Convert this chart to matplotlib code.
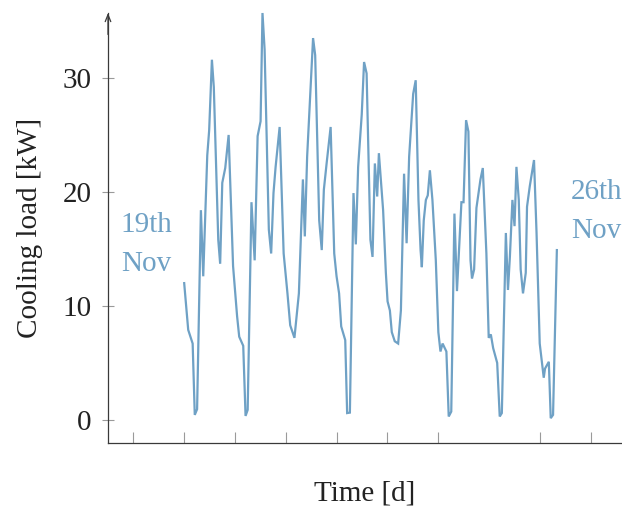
import matplotlib
matplotlib.use("Agg")
import matplotlib.pyplot as plt
import numpy as np

# Time in hours since 19th Nov 00:00, cooling load in kW
hours = [0.0, 1.9, 4.0, 5.0, 6.1, 7.9, 9.0, 10.9, 11.8, 13.1, 14.0, 16.1, 17.0, 18.0,
         19.4, 21.0, 23.1, 25.0, 26.0, 27.9, 29.0, 30.0, 31.8, 33.3, 34.7, 36.1, 37.0,
         38.0, 40.0, 41.1, 42.2, 43.2, 45.1, 47.0, 48.8, 50.1, 52.1, 54.2, 56.1, 57.0,
         58.1, 60.9, 61.9, 63.8, 65.0, 66.0, 67.3, 69.2, 70.9, 72.0, 73.2, 74.2, 76.1,
         77.0, 78.3, 80.0, 81.1, 82.2, 83.9, 85.0, 86.2, 88.0, 89.0, 90.1, 91.2, 92.0,
         94.0, 95.3, 96.1, 97.2, 98.1, 99.5, 101.1, 102.4, 103.9, 105.1, 106.3, 108.2,
         109.4, 110.7, 111.7, 112.3, 113.2, 114.2, 115.1, 116.1, 117.3, 118.9, 120.1,
         121.1, 122.1, 123.9, 125.0, 126.2, 127.7, 128.9, 131.0, 132.0, 133.2, 134.3,
         135.3, 136.0, 137.0, 138.1, 140.0, 141.1, 142.8, 143.9, 144.9, 146.0, 147.9,
         149.1, 150.1, 152.0, 153.0, 153.9, 155.1, 156.1, 157.0, 158.1, 159.0, 160.1,
         161.4, 162.0, 163.3, 165.3, 166.5, 168.0, 169.9, 170.5, 172.3, 173.2, 174.3,
         176.1]
load_kw = [12.0, 7.9, 6.7, 0.44, 0.94, 18.4, 12.6, 23.2, 25.4, 31.6, 29.2, 15.8, 13.7, 20.8,
           22.1, 25.0, 13.5, 9.1, 7.3, 6.5, 0.35, 0.88, 19.1, 14.0, 24.9, 26.2, 35.7,
           32.5, 16.7, 14.6, 19.9, 22.2, 25.7, 14.6, 11.1, 8.3, 7.2, 11.1, 21.1, 16.1,
           23.1, 33.5, 32.0, 17.5, 14.9, 20.2, 22.5, 25.7, 14.6, 12.6, 11.1, 8.2, 7.0,
           0.6, 0.64, 19.9, 15.4, 22.2, 26.8, 31.4, 30.4, 15.8, 14.3, 22.5, 19.6, 23.4,
           18.4, 12.9, 10.4, 9.6, 7.7, 6.9, 6.7, 9.6, 21.6, 15.5, 23.1, 28.6,
           29.8, 19.3, 14.9, 13.4, 17.5, 19.3, 19.7, 21.9, 19.3, 14.0, 7.7,
           6.0, 6.7, 6.0, 0.3, 0.73, 18.1, 11.3, 19.1, 19.1, 26.3, 25.3,
           14.0, 12.4, 13.2, 18.6, 21.1, 22.1, 14.6, 7.2, 7.5, 6.3, 5.0,
           0.3, 0.6, 16.4, 11.4, 14.3, 19.3, 17.0, 22.2, 19.3, 13.2, 11.1,
           12.9, 18.7, 20.5, 22.8, 16.4, 6.7, 3.7, 4.5, 5.1, 0.15, 0.44,
           14.9]

x_ticks_days = [-1, 0, 1, 2, 3, 4, 5, 7, 8]
y_ticks = [0, 10, 20, 30]
start_label = "19th\nNov"
end_label = "26th\nNov"

line_color = "#6fa1c5"
axis_color = "#3a3a3a"
tick_color = "#9a9a9a"

plt.rcParams['font.family'] = ['Liberation Serif', 'DejaVu Serif']
FS = 21

fig = plt.figure(figsize=(6.22, 5.08), dpi=100)
ax = fig.add_axes([108/622, (508-442.7)/508, 514/622, (442.7-13)/508])

days = np.array(hours) / 24.0
ax.plot(days, load_kw, color=line_color, lw=1.6, solid_joinstyle='miter', clip_on=False)

ax.set_xlim(-1.5, 8.62)
ax.set_ylim(-2.0, 35.7)

for s in ['top', 'right']:
    ax.spines[s].set_visible(False)
for s in ['left', 'bottom']:
    ax.spines[s].set_color(axis_color)
    ax.spines[s].set_linewidth(0.9)

ax.set_xticks(x_ticks_days)
ax.set_xticklabels([])
ax.tick_params(axis='x', direction='in', length=8, width=0.8, color=tick_color)
ax.set_yticks(y_ticks)
ax.set_yticklabels([str(v) for v in y_ticks])
ax.tick_params(axis='y', direction='inout', length=8, width=0.8, color=tick_color,
               labelsize=FS, labelcolor='#222222', pad=8)

ax.annotate('', xy=(0, 1.0), xytext=(0, 0.95), xycoords='axes fraction',
            arrowprops=dict(arrowstyle='->,head_length=0.5,head_width=0.2', lw=0.9,
                            color=axis_color, shrinkA=0, shrinkB=0))

ax.set_xlabel('Time [d]', fontsize=FS, color='#222222')
ax.xaxis.set_label_coords(0.5, -0.088)
ax.xaxis.label.set_va('top')
ax.set_ylabel('Cooling load [kW]', fontsize=FS, color='#222222')
ax.yaxis.set_label_coords(-0.152, 0.5)
ax.yaxis.label.set_va('center')

ax.text(-0.75, 15.4, start_label, color=line_color, fontsize=FS, ha='center', va='center',
        linespacing=1.65)
ax.text(8.12, 18.3, end_label, color=line_color, fontsize=FS, ha='center', va='center',
        linespacing=1.65, clip_on=False)

fig.savefig('out.png', dpi=100)
